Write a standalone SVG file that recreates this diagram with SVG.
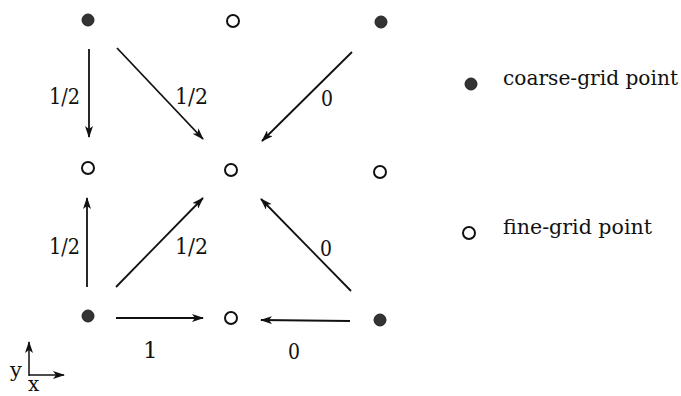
<svg xmlns="http://www.w3.org/2000/svg" width="681" height="396" viewBox="0 0 681 396">
<style>
.c{fill:#333;stroke:#222;stroke-width:1}
.f{fill:#fff;stroke:#111;stroke-width:2}
.a{stroke:#111;stroke-width:1.8;fill:none;marker-end:url(#ah)}
.t{font-family:"DejaVu Serif","Liberation Serif",serif;font-size:23px;fill:#111}
.l{font-family:"DejaVu Serif","Liberation Serif",serif;font-size:20px;fill:#111}
</style>
<defs>
<marker id="ah" viewBox="0 0 12 8" refX="11" refY="4" markerWidth="12" markerHeight="8" markerUnits="userSpaceOnUse" orient="auto">
<path d="M0,0 L12,4 L0,8 L3,4 Z" fill="#111"/>
</marker>
</defs>
<g id="p-tl"><circle class="c" cx="88" cy="20" r="6"/></g>
<g id="p-tm"><circle class="f" cx="233" cy="21" r="6"/></g>
<g id="p-tr"><circle class="c" cx="381" cy="22" r="6"/></g>
<g id="p-ml"><circle class="f" cx="88" cy="168" r="6"/></g>
<g id="p-mm"><circle class="f" cx="231" cy="170" r="6"/></g>
<g id="p-mr"><circle class="f" cx="380" cy="172" r="6"/></g>
<g id="p-bl"><circle class="c" cx="88" cy="316" r="6"/></g>
<g id="p-bm"><circle class="f" cx="231" cy="318" r="6"/></g>
<g id="p-br"><circle class="c" cx="380" cy="320" r="6"/></g>
<g id="connectors">
<line class="a" x1="89" y1="49" x2="89" y2="137"/>
<line class="a" x1="117" y1="48" x2="203" y2="139"/>
<line class="a" x1="352" y1="52" x2="262" y2="141"/>
<line class="a" x1="87" y1="287" x2="87" y2="198"/>
<line class="a" x1="116" y1="287" x2="203" y2="198"/>
<line class="a" x1="116" y1="318" x2="203" y2="318"/>
<line class="a" x1="351" y1="291" x2="261" y2="199"/>
<line class="a" x1="350" y1="321" x2="261" y2="320"/>
</g>
<g id="labels">
<text class="t" x="49" y="104" textLength="31" lengthAdjust="spacingAndGlyphs">1/2</text>
<text class="t" x="175" y="104" textLength="33" lengthAdjust="spacingAndGlyphs">1/2</text>
<text class="t" x="321" y="106" textLength="12" lengthAdjust="spacingAndGlyphs">0</text>
<text class="t" x="49" y="254" textLength="31" lengthAdjust="spacingAndGlyphs">1/2</text>
<text class="t" x="175" y="254" textLength="33" lengthAdjust="spacingAndGlyphs">1/2</text>
<text class="t" x="320" y="256" textLength="12" lengthAdjust="spacingAndGlyphs">0</text>
<text class="t" x="143" y="358">1</text>
<text class="t" x="288" y="359" textLength="12" lengthAdjust="spacingAndGlyphs">0</text>
</g>
<g id="legend-coarse">
<circle class="c" cx="471" cy="84" r="6"/>
<text class="l" x="503" y="85" textLength="175" lengthAdjust="spacingAndGlyphs">coarse-grid point</text>
</g>
<g id="legend-fine">
<circle class="f" cx="469" cy="233" r="6"/>
<text class="l" x="503" y="234" textLength="149" lengthAdjust="spacingAndGlyphs">fine-grid point</text>
</g>
<g id="axes">
<line x1="29" y1="376" x2="29" y2="342" stroke="#111" stroke-width="1.5" marker-end="url(#ah)"/>
<line x1="29" y1="375" x2="64" y2="375" stroke="#111" stroke-width="1.5" marker-end="url(#ah)"/>
<text class="t" x="10" y="377" style="font-size:21px">y</text>
<text class="t" x="28" y="391" style="font-size:20px">x</text>
</g>
</svg>
